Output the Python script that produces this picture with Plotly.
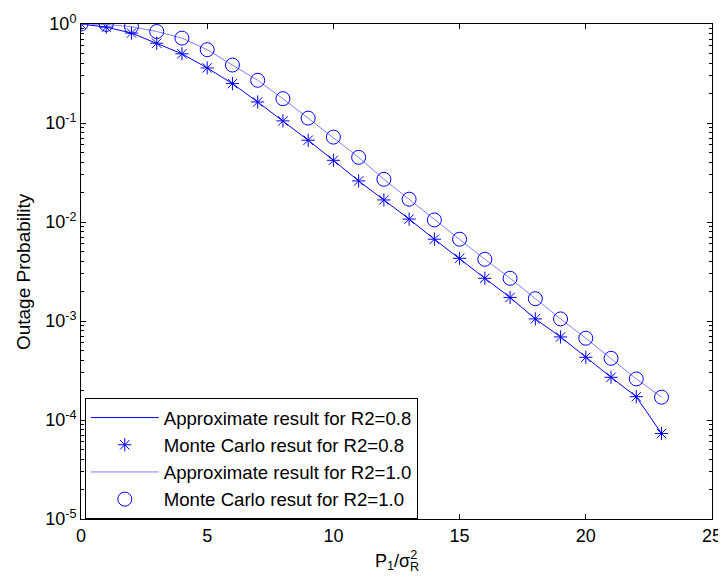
import plotly.graph_objects as go

# ---- data ----
snr = list(range(0, 24))

mc_r08 = [1.0, 0.93, 0.81, 0.64, 0.50, 0.36, 0.25, 0.163, 0.105, 0.067, 0.042, 0.026,
          0.0167, 0.0107, 0.0067, 0.0043, 0.0027, 0.00173, 0.00105, 0.00069, 0.00043,
          0.00027, 0.000172, 0.000073]
approx_r08 = [1.0, 0.93, 0.81, 0.64, 0.50, 0.36, 0.25, 0.163, 0.105, 0.067, 0.042, 0.026,
              0.0167, 0.0107, 0.0067, 0.0043, 0.0027, 0.00173, 0.00105, 0.00069, 0.00043,
              0.00027, 0.000172, 0.000073]

mc_r10 = [1.0, 0.99, 0.94, 0.84, 0.72, 0.55, 0.385, 0.27, 0.176, 0.112, 0.072, 0.045,
          0.027, 0.0170, 0.0105, 0.0067, 0.0042, 0.0027, 0.00168, 0.00105, 0.00067,
          0.00042, 0.00026, 0.000170]
approx_r10 = [1.0, 0.99, 0.94, 0.84, 0.72, 0.55, 0.385, 0.27, 0.176, 0.112, 0.072, 0.045,
              0.027, 0.0170, 0.0105, 0.0067, 0.0042, 0.0027, 0.00168, 0.00105, 0.00067,
              0.00042, 0.00026, 0.000170]

names = ["Approximate result for R2=0.8", "Monte Carlo resut for R2=0.8",
         "Approximate result for R2=1.0", "Monte Carlo resut for R2=1.0"]

y_exponents = [0, -1, -2, -3, -4, -5]
x_ticks = [0, 5, 10, 15, 20, 25]

FONT = "Arial, Liberation Sans, sans-serif"
BLUE = "#0000ff"
LIGHT = "#8080ff"

fig = go.Figure()
fig.add_trace(go.Scatter(x=snr, y=approx_r08, mode="lines", name=names[0],
                         line=dict(color=BLUE, width=1)))
fig.add_trace(go.Scatter(x=snr, y=mc_r08, mode="markers", name=names[1],
                         marker=dict(symbol="asterisk-open", size=11, color=BLUE,
                                     line=dict(color=BLUE, width=1))))
fig.add_trace(go.Scatter(x=snr, y=approx_r10, mode="lines", name=names[2],
                         line=dict(color=LIGHT, width=1)))
fig.add_trace(go.Scatter(x=snr, y=mc_r10, mode="markers", name=names[3],
                         marker=dict(symbol="circle-open", size=14, color=BLUE,
                                     line=dict(color=BLUE, width=1))))

minor_vals = [m * 10.0 ** e for e in range(-5, 0) for m in range(2, 10)]

# page body has an 8px margin, so the figure is drawn at (8, 8)
fig.update_layout(
    width=718, height=578,
    margin=dict(l=73, r=14, t=16, b=67, autoexpand=False),
    paper_bgcolor="white", plot_bgcolor="white",
    font=dict(family=FONT, size=18, color="black"),
    showlegend=True,
    legend=dict(x=0.006, y=0.0, xanchor="left", yanchor="bottom",
                bgcolor="white", bordercolor="black", borderwidth=1,
                font=dict(family=FONT, size=18.6, color="black"),
                itemwidth=68),
    xaxis=dict(range=[0, 25], tickmode="array", tickvals=x_ticks,
               ticktext=[str(v) for v in x_ticks], automargin=False,
               ticks="inside", ticklen=5, tickcolor="black",
               showline=True, linecolor="black", linewidth=1, mirror="ticks",
               showgrid=False, zeroline=False,
               tickfont=dict(family=FONT, size=18, color="black")),
    yaxis=dict(type="log", range=[-5, 0], tickmode="array", automargin=False,
               tickvals=[10.0 ** e for e in y_exponents],
               ticktext=["10<sup>%d</sup>" % e for e in y_exponents],
               ticks="inside", ticklen=5, tickcolor="black",
               minor=dict(tickmode="array", tickvals=minor_vals, ticks="inside",
                          ticklen=3, tickcolor="black", showgrid=False),
               showline=True, linecolor="black", linewidth=1, mirror="ticks",
               showgrid=False, zeroline=False,
               tickfont=dict(family=FONT, size=18, color="black")),
)

fig.add_annotation(text="Outage Probability", xref="paper", yref="paper",
                   x=-0.091, y=0.5, textangle=-90, showarrow=False,
                   xanchor="center", yanchor="middle",
                   font=dict(family=FONT, size=19, color="black"))
fig.add_annotation(text="P<sub>1</sub>/σ<sup>2</sup>", xref="paper", yref="paper",
                   x=(373 - 81) / 631, y=-0.083, showarrow=False,
                   xanchor="left", yanchor="middle",
                   font=dict(family=FONT, size=18, color="black"))
fig.add_annotation(text="R", xref="paper", yref="paper",
                   x=(408 - 81) / 631, y=-0.097, showarrow=False,
                   xanchor="left", yanchor="middle",
                   font=dict(family=FONT, size=12.6, color="black"))

fig.write_html("out.html")
